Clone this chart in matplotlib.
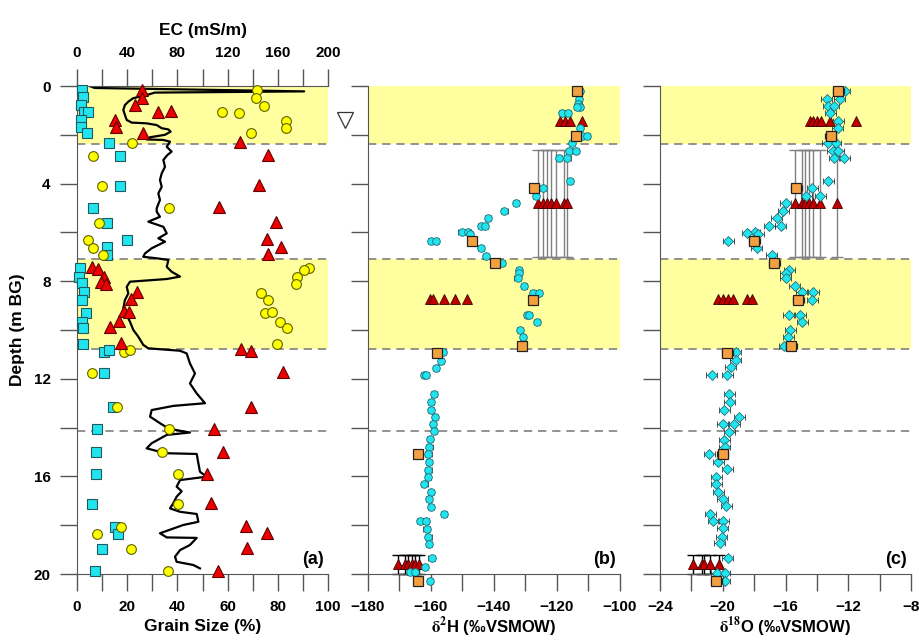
import numpy as np
import matplotlib.pyplot as plt
from matplotlib.ticker import MultipleLocator

plt.rcParams['font.family'] = ['Liberation Sans', 'DejaVu Sans']
plt.rcParams['font.weight'] = 'bold'
plt.rcParams['mathtext.fontset'] = 'stix'

# ---------------- panel (a): grain size (%) ----------------
clay_d = [0.16, 0.46, 0.78, 1.07, 1.05, 1.39, 1.66, 1.94, 2.32, 2.87, 4.10, 5.01, 5.63,
          6.31, 6.58, 6.93, 7.46, 7.81, 8.09, 8.43, 8.77, 9.29, 9.66, 9.93, 10.59, 10.89,
          10.82, 11.75, 13.17, 14.07, 15.01, 15.9, 17.14, 18.06, 18.36, 18.98, 19.88]
clay = [2.1, 2.5, 1.6, 2.8, 4.5, 1.5, 1.5, 3.9, 12.7, 17.1, 17.1, 6.5, 12.1,
        19.8, 11.8, 12.1, 1.2, 0.9, 1.9, 2.8, 1.9, 3.6, 1.9, 2.5, 2.3, 10.9,
        12.9, 10.9, 14.2, 7.8, 7.4, 7.6, 5.8, 15.1, 16.5, 10.1, 7.2]

silt_d = [0.16, 0.51, 0.81, 1.08, 1.12, 1.43, 1.73, 1.94, 2.32, 2.87, 4.10, 5.01, 5.63,
          6.31, 6.63, 6.93, 7.44, 7.54, 7.81, 8.13, 8.47, 8.77, 9.32, 9.28, 9.69, 9.9,
          10.59, 10.89, 10.82, 11.75, 13.17, 14.07, 15.01, 15.9, 17.14, 18.06, 18.36,
          18.98, 19.88]
silt = [71.6, 71.3, 74.6, 57.9, 64.5, 83.1, 83.1, 69.2, 21.8, 6.5, 9.8, 36.8, 8.6,
        4.3, 6.5, 10.5, 92.6, 90.5, 87.8, 87.3, 73.2, 76.2, 74.9, 77.6, 80.9, 83.8,
        79.6, 18.7, 21.1, 6.1, 16.1, 36.8, 33.7, 40.4, 40.1, 17.5, 8.1,
        21.4, 36.4]

sand_d = [0.16, 0.48, 0.78, 1.08, 1.02, 1.39, 1.66, 1.91, 2.28, 2.83, 4.06, 4.97, 5.56,
          6.28, 6.58, 6.89, 7.43, 7.5, 7.81, 8.05, 8.13, 8.43, 8.73, 9.22, 9.25, 9.63,
          9.86, 10.55, 10.79, 10.86, 11.71, 13.14, 14.06, 14.99, 15.9, 17.1, 18.03,
          18.33, 18.95, 19.86]
sand = [25.8, 26.0, 23.1, 32.1, 37.5, 15.1, 15.4, 26.4, 64.9, 76.0, 72.5, 56.6, 79.2,
        75.6, 81.3, 76.2, 5.9, 8.2, 10.9, 9.4, 11.4, 23.8, 21.4, 18.7, 20.8, 16.7,
        13.1, 17.5, 65.3, 69.3, 82.2, 69.3, 54.7, 58.3, 51.7, 53.4, 67.2,
        75.6, 67.8, 56.2]

# EC log (mS/m)
ec_d = [0.0, 0.08, 0.22, 0.27, 0.37, 0.5, 0.64, 0.78, 0.98, 1.19, 1.39, 1.5, 1.53, 1.6,
        1.73, 1.78, 1.87, 2.0, 2.1, 2.19, 2.21, 2.28, 2.49, 2.69, 2.83, 3.03, 3.31,
        3.58, 3.85, 4.13, 4.4, 4.67, 5.01, 5.15, 5.36, 5.56, 5.77, 6.04, 6.24, 6.38,
        6.65, 6.86, 7.0, 7.06, 7.13, 7.41, 7.61, 7.81, 7.91, 8.02, 8.23, 8.5, 8.77,
        9.11, 9.39, 9.66, 10.0, 10.27, 10.61, 10.75, 10.85, 10.96, 11.37, 11.78,
        12.19, 12.6, 13.0, 13.11, 13.28, 13.55, 13.82, 14.03, 14.13, 14.2, 14.3,
        14.64, 14.85, 14.99, 15.05, 15.08, 15.46, 15.81, 16.01, 16.15, 16.42, 16.61,
        16.83, 17.1, 17.31, 17.45, 17.54, 17.86, 17.99, 18.33, 18.5, 18.52, 18.81,
        19.02, 19.29, 19.5, 19.63, 19.77]
ec = [10, 14, 181, 62, 55.5, 44.8, 40.9, 38.2, 36.9, 38.2, 39.6, 43.6, 55.5, 63.5,
      67.5, 72.8, 74.6, 70.1, 58.2, 55.5, 68.8, 74.1, 71.5, 75.4, 72.0, 68.8, 70.1,
      67.5, 66.1, 67.5, 64.8, 66.1, 63.5, 63.5, 66.1, 56.8, 68.8, 71.5, 64.8, 70.1,
      59.5, 54.2, 52.8, 63.5, 72.8, 71.5, 75.4, 82.1, 71.5, 42.2, 39.6, 40.9, 38.2,
      36.9, 39.6, 42.2, 44.9, 48.8, 52.8, 56.8, 82.1, 87.4, 90.0, 94.0,
      90.0, 95.4, 102.0, 76.7, 59.5, 58.2, 66.1, 72.8, 82.1, 90.0, 71.5,
      59.5, 55.5, 66.1, 71.5, 95.4, 96.7, 98.0, 103.3, 82.1, 79.4, 83.4,
      79.4, 76.7, 74.1, 82.1, 95.4, 96.7, 84.7, 66.1, 71.5, 95.4, 90.0,
      82.1, 78.1, 79.4, 92.7, 98.0]

water_table = 1.4

# layer boundaries (m)
yellow_bands = [(0.0, 2.38), (7.09, 10.78)]
dashed_depths = [2.38, 7.09, 10.78, 14.13]

# ---------------- panel (b): d2H ----------------
h_d = [0.2, 0.53, 0.75, 0.84, 0.84,
       1.12, 1.12, 1.73, 2.05, 2.05,
       2.35, 2.65, 2.65, 2.96, 2.96,
       3.89, 4.17, 4.51, 4.81, 5.12,
       5.4, 5.72, 5.72, 5.97, 5.97,
       6.08, 6.35, 6.35, 6.65, 6.95,
       7.24, 7.54, 7.67, 7.88, 8.2,
       8.47, 8.47, 9.39, 9.39, 9.69,
       10.0, 10.3, 10.9, 11.26, 11.54,
       11.84, 11.84, 12.64, 12.94, 13.27,
       13.58, 13.85, 14.13, 14.48, 14.78,
       15.08, 15.4, 15.74, 16.04, 16.33,
       16.63, 16.94, 17.24, 17.54, 17.83,
       17.83, 18.16, 18.47, 18.77, 19.36,
       19.7, 19.9, 19.9, 20.27]
h_val = [-112.7, -112.9, -113.2, -112.7, -113.5,
         -118.3, -116.4, -112.7, -112.2, -110.6,
         -115.3, -116.1, -114.0, -119.4, -116.7,
         -115.9, -124.5, -126.7, -133.0, -136.7,
         -142.0, -144.2, -142.9, -150.3, -148.2,
         -147.6, -160.0, -158.4, -144.2, -142.5,
         -137.6, -132.0, -132.0, -132.5, -130.4,
         -127.7, -125.7, -129.6, -128.8, -126.3,
         -131.7, -130.7, -156.3, -156.9, -158.4,
         -162.1, -161.6, -159.0, -160.0, -160.0,
         -158.7, -159.3, -159.0, -160.3, -160.5,
         -160.8, -160.6, -160.8, -161.0, -162.1,
         -160.1, -160.6, -160.0, -155.9, -163.5,
         -161.6, -161.4, -160.8, -160.6, -159.8,
         -161.9, -166.7, -165.1, -160.3]

# ---------------- panel (c): d18O ----------------
o_d = [0.2, 0.53, 0.53, 0.81, 0.81,
       1.12, 1.42, 1.73, 2.35, 2.35,
       2.65, 2.65, 2.96, 2.96, 3.89,
       4.19, 4.49, 4.49, 4.81, 5.12,
       5.4, 5.72, 5.72, 5.97, 6.04,
       6.07, 6.35, 6.65, 6.93, 7.54,
       7.65, 7.88, 8.18, 8.46, 8.46,
       8.77, 9.39, 9.39, 9.69, 10.0,
       10.3, 10.64, 10.9, 11.23, 11.53,
       11.84, 11.84, 12.64, 12.97, 13.28,
       13.58, 13.85, 13.85, 14.17, 14.51,
       14.78, 15.08, 15.4, 15.7, 16.01,
       16.33, 16.63, 16.94, 17.21, 17.54,
       17.84, 17.84, 18.13, 18.47, 18.74,
       19.36, 19.97, 19.97, 20.27]
o_val = [-12.21, -13.38, -12.53, -13.27, -12.91,
         -13.16, -12.64, -12.68, -13.31, -12.8,
         -12.99, -12.64, -12.89, -12.25, -13.27,
         -14.29, -14.69, -13.8, -15.99, -16.14,
         -16.56, -16.29, -17.03, -17.95, -18.44,
         -17.73, -19.65, -17.84, -16.88, -15.76,
         -15.97, -15.97, -15.4, -14.97, -14.23,
         -14.29, -15.78, -15.07, -14.93, -15.71,
         -15.82, -16.07, -19.16, -19.16, -19.5,
         -20.71, -19.71, -19.6, -19.54, -19.92,
         -18.95, -20.0, -19.28, -19.6, -19.92,
         -19.86, -20.86, -20.28, -19.71, -20.43,
         -20.43, -20.28, -20.0, -19.79, -20.81,
         -20.6, -19.96, -20.0, -20.07, -20.18,
         -19.69, -20.39, -19.86, -19.86]

# orange squares (both isotopes)
sq_d = [0.2, 2.05, 4.19, 6.35, 7.24, 8.77, 10.64, 10.94, 15.08, 20.27]
sq_h = [-113.7, -114.0, -127.3, -146.9, -139.7, -127.5, -131.0, -158.0, -164.2, -164.2]
sq_o = [-12.64, -13.12, -15.33, -17.99, -16.73, -15.18, -15.64, -19.71, -20.0, -20.43]

# red triangles: groups plotted at one depth, with depth error
tri_h_d = [1.42, 1.42, 1.42, 1.42,
           4.81, 4.81, 4.81, 4.81, 4.81, 4.81, 4.81,
           8.74, 8.74, 8.74, 8.74, 8.74,
           19.6, 19.6, 19.6, 19.6, 19.6, 19.6]
tri_h = [-119.0, -117.5, -115.9, -112.2,
         -125.9, -124.5, -123.3, -121.9, -120.3, -117.7, -116.9,
         -160.3, -159.3, -155.9, -152.4, -148.5,
         -170.4, -168.3, -167.2, -166.1, -165.1, -163.7]
tri_o_d = [1.42, 1.42, 1.42, 1.42, 1.42, 1.42,
           4.81, 4.81, 4.81, 4.81, 4.81, 4.81, 4.81,
           8.74, 8.74, 8.74, 8.74, 8.74, 8.74,
           19.6, 19.6, 19.6, 19.6, 19.6]
tri_o = [-14.44, -14.23, -14.01, -13.74, -13.16, -11.51,
         -15.4, -14.97, -14.76, -14.49, -14.23, -13.8, -12.74,
         -20.28, -19.96, -19.69, -19.37, -18.48, -18.12,
         -21.92, -21.35, -21.18, -20.81, -20.24]
tri_err = {4.81: 2.19, 19.6: 0.38}
tri_err_color = {4.81: '#808080', 19.6: '#000000'}

# ---------------- styles ----------------
band_c = '#ffffa0'
cyan = '#22e4ee'
red = '#ee0000'
dark_red = '#c00000'
yellow = '#ffff00'
orange = '#f5a040'
spine_c = '#555555'

fig = plt.figure(figsize=(9.19, 6.4), dpi=100)
ax_a = fig.add_axes([0.0838, 0.1031, 0.2731, 0.7625])
ax_b = fig.add_axes([0.4004, 0.1031, 0.2742, 0.7625])
ax_c = fig.add_axes([0.7182, 0.1031, 0.2731, 0.7625])


def layers(ax):
    for top, bot in yellow_bands:
        ax.axhspan(top, bot, color=band_c, zorder=0, lw=0)
    for d in dashed_depths:
        ax.axhline(d, color='#808080', lw=1.2, dashes=(5, 3.5), zorder=1)


def decorate(ax, xlim):
    ax.set_xlim(*xlim)
    ax.set_ylim(20, 0)
    for s in ['top', 'right']:
        ax.spines[s].set_visible(False)
    for s in ['left', 'bottom']:
        ax.spines[s].set_color(spine_c)
    ax.yaxis.set_major_locator(MultipleLocator(4))
    ax.yaxis.set_minor_locator(MultipleLocator(2))
    ax.tick_params(which='both', length=12, width=1, color=spine_c,
                   labelsize=11, pad=7)


# panel (a): EC axis underneath, grain-size markers on top
decorate(ax_a, (0, 100))
ax_a.xaxis.set_major_locator(MultipleLocator(20))
ax_a.xaxis.set_minor_locator(MultipleLocator(10))
ax_a.set_xlabel('Grain Size (%)', fontsize=12.5, fontweight='bold', labelpad=3)
ax_a.set_ylabel('Depth (m BG)', fontsize=12.5, fontweight='bold', labelpad=6)

ax_ec = ax_a.twiny()
ax_ec.set_xlim(0, 200)
ax_ec.set_ylim(20, 0)
layers(ax_ec)
ax_ec.plot(ec, ec_d, color='black', lw=1.6, zorder=2)
ax_ec.xaxis.set_major_locator(MultipleLocator(40))
ax_ec.xaxis.set_minor_locator(MultipleLocator(20))
ax_ec.tick_params(which='both', length=12, width=1, color=spine_c, labelsize=11, pad=7)
for s in ['left', 'bottom', 'right']:
    ax_ec.spines[s].set_visible(False)
ax_ec.spines['top'].set_color(spine_c)
ax_ec.set_xlabel('EC (mS/m)', fontsize=12.5, fontweight='bold', labelpad=8)
ax_ec.set_zorder(0)
ax_a.set_zorder(1)
ax_a.patch.set_visible(False)

mk = dict(ls='none', mew=0.8, clip_on=False, zorder=3)
ax_a.plot(clay, clay_d, 's', ms=6.5, mfc=cyan, mec='#205a60', **mk)
ax_a.plot(silt, silt_d, 'o', ms=7, mfc=yellow, mec='#606000', **mk)
ax_a.plot(sand, sand_d, '^', ms=8.5, mfc=red, mec='#600000', **mk)
ax_a.plot([106.8], [water_table], 'v', ms=11, mfc='white', mec='#333333',
          mew=0.9, clip_on=False)
ax_a.text(0.985, 0.012, '(a)', transform=ax_a.transAxes, ha='right', va='bottom',
          fontsize=13, fontweight='bold')


def iso_panel(ax, vals, d, xerr_c, sq, tri, tri_d, xlim, major, minor,
              marker, ms_c, label, tag):
    decorate(ax, xlim)
    layers(ax)
    ax.xaxis.set_major_locator(MultipleLocator(major))
    ax.xaxis.set_minor_locator(MultipleLocator(minor))
    ax.set_yticklabels([])
    tri = np.array(tri)
    tri_d = np.array(tri_d)
    for dep, err in tri_err.items():
        sel = tri_d == dep
        ax.errorbar(tri[sel], tri_d[sel], yerr=err, fmt='none',
                    ecolor=tri_err_color[dep], elinewidth=1, capsize=4,
                    capthick=1, zorder=2, clip_on=False)
    ax.errorbar(vals, d, xerr=xerr_c, fmt=marker, ms=ms_c, mfc=cyan,
                mec='#1f6f78', mew=0.6, ecolor='#333333', elinewidth=0.7,
                capsize=2, zorder=4, clip_on=False)
    ax.errorbar(sq, sq_d, xerr=xerr_c, fmt='s', ms=7.5, mfc=orange, mec='#222222',
                mew=0.9, ecolor='#222222', elinewidth=0.8, capsize=2, zorder=5,
                clip_on=False)
    ax.plot(tri, tri_d, '^', ls='none', ms=6.5, mfc=dark_red, mec='#400000',
            mew=0.6, zorder=3, clip_on=False)
    ax.set_xlabel(label, fontsize=12, fontweight='bold', labelpad=1)
    ax.text(0.985, 0.012, tag, transform=ax.transAxes, ha='right', va='bottom',
            fontsize=13, fontweight='bold')


iso_panel(ax_b, h_val, h_d, 1.0, sq_h, tri_h, tri_h_d, (-180, -100), 20, 10,
          'o', 5.5, r'$\mathrm{\delta^{2}}$H (‰VSMOW)', '(b)')
iso_panel(ax_c, o_val, o_d, 0.35, sq_o, tri_o, tri_o_d, (-24, -8), 4, 2,
          'D', 5, r'$\mathrm{\delta^{18}}$O (‰VSMOW)', '(c)')

fig.savefig('out.png', dpi=100)
